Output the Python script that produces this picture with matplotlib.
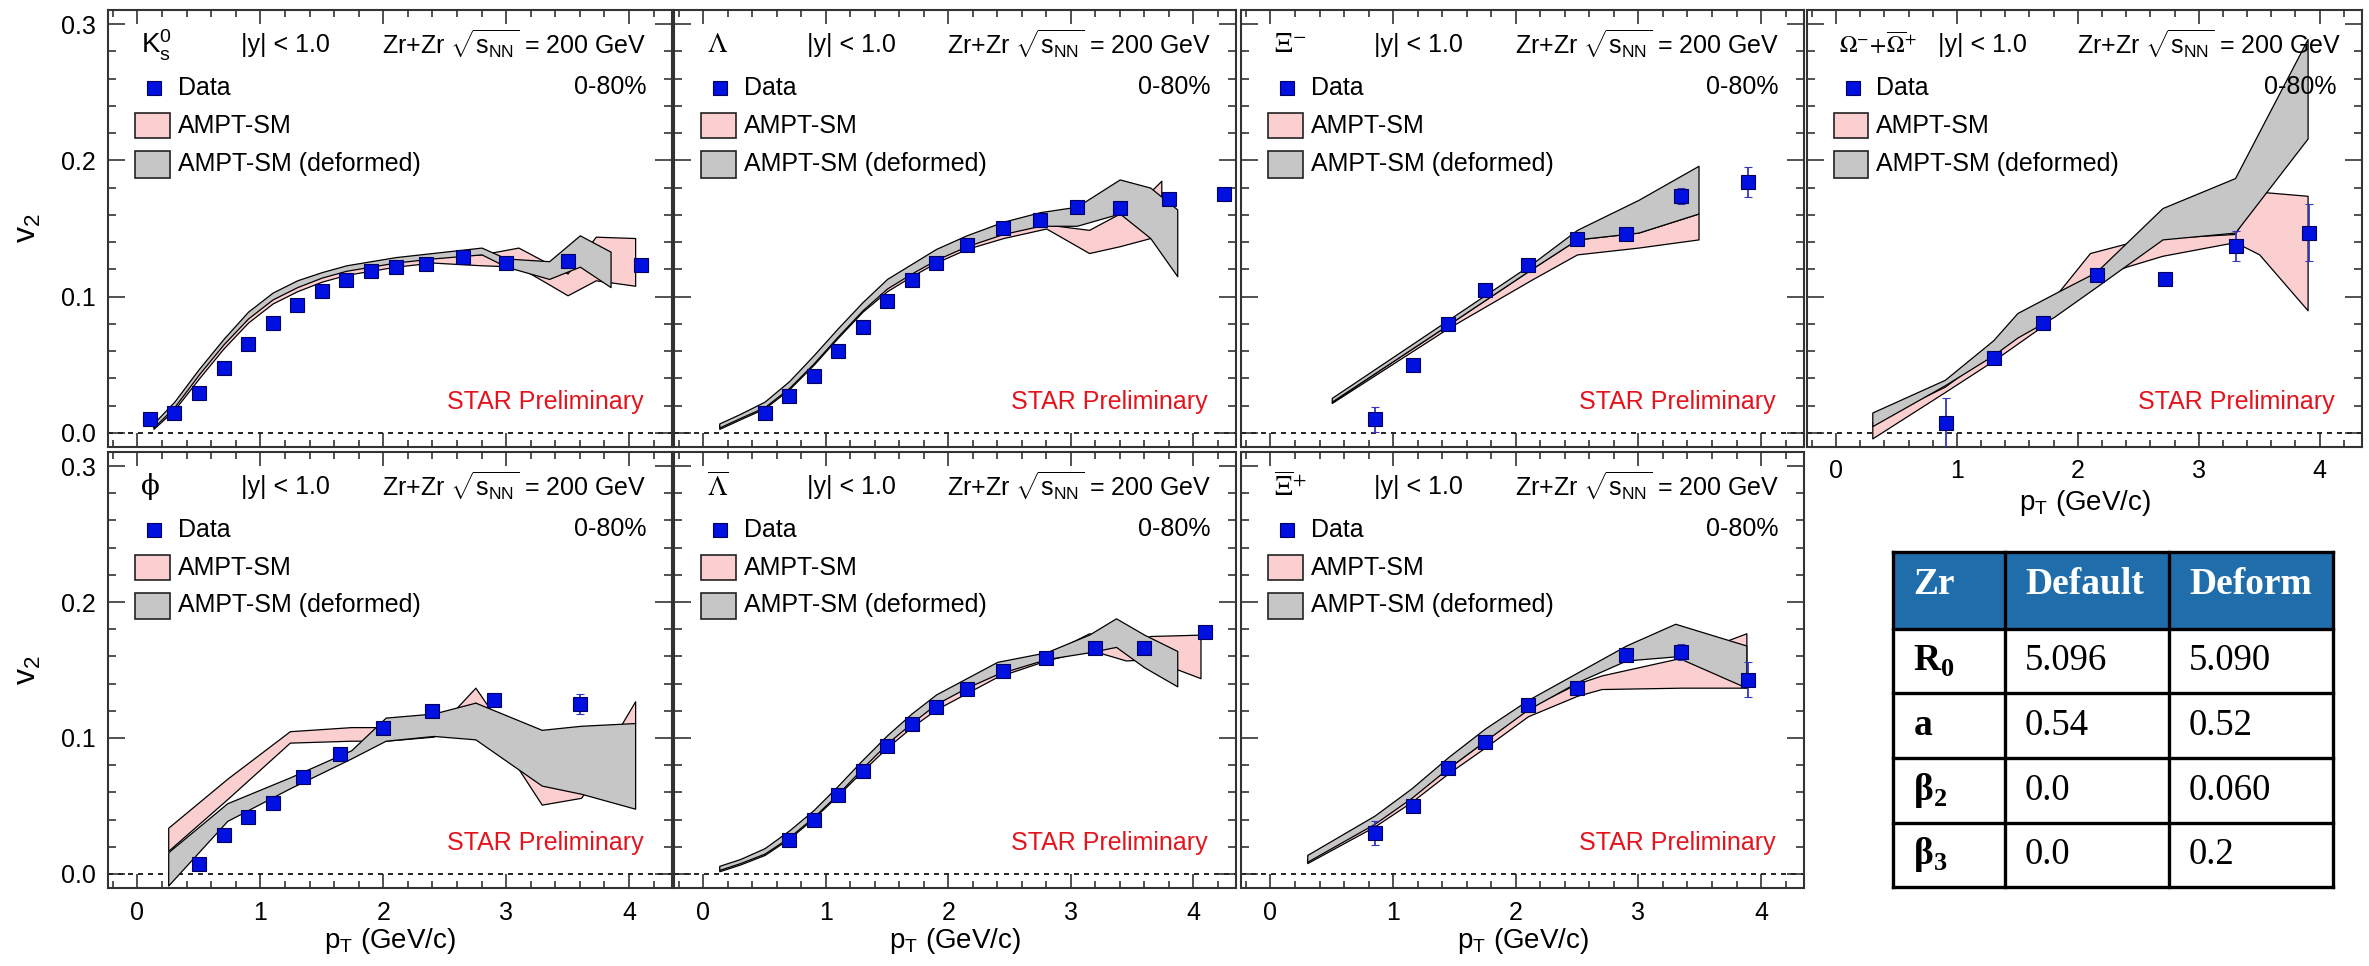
import matplotlib
matplotlib.use("Agg")
import matplotlib.pyplot as plt
from matplotlib.patches import Rectangle

plt.rcParams['font.family'] = ['Liberation Sans', 'DejaVu Sans']
plt.rcParams['mathtext.fontset'] = 'custom'
plt.rcParams['mathtext.rm'] = 'Liberation Sans'
plt.rcParams['mathtext.it'] = 'Liberation Sans:italic'
plt.rcParams['mathtext.bf'] = 'Liberation Serif:bold'

# -----------------------------
# data
# -----------------------------
# K0s
k0s_pt = [0.1, 0.3, 0.5, 0.7, 0.9, 1.1, 1.3, 1.5, 1.7, 1.9, 2.1, 2.35, 2.65, 3.0, 3.5, 4.1]
k0s_v2 = [0.010, 0.015, 0.029, 0.048, 0.065, 0.081, 0.094, 0.104, 0.112, 0.119, 0.122, 0.124, 0.129, 0.125, 0.126, 0.123]
k0s_err = [0.001] * 14 + [0.004, 0.002]
k0s_def_pt = [0.13, 0.3, 0.5, 0.7, 0.9, 1.1, 1.3, 1.5, 1.7, 1.9, 2.1, 2.4, 2.8, 3.1, 3.33, 3.5, 3.73, 4.05]
k0s_def_lo = [0.003, 0.017, 0.040, 0.062, 0.081, 0.095, 0.104, 0.111, 0.116, 0.119, 0.122, 0.125, 0.123, 0.122, 0.110, 0.101, 0.112, 0.108]
k0s_def_hi = [0.005, 0.020, 0.044, 0.066, 0.085, 0.099, 0.108, 0.115, 0.120, 0.123, 0.126, 0.129, 0.131, 0.136, 0.125, 0.117, 0.144, 0.143]
k0s_dfm_pt = [0.13, 0.3, 0.5, 0.7, 0.9, 1.1, 1.3, 1.5, 1.7, 1.9, 2.1, 2.4, 2.8, 3.0, 3.35, 3.6, 3.85]
k0s_dfm_lo = [0.004, 0.019, 0.043, 0.065, 0.084, 0.098, 0.107, 0.114, 0.119, 0.122, 0.125, 0.128, 0.131, 0.122, 0.113, 0.122, 0.107]
k0s_dfm_hi = [0.007, 0.023, 0.047, 0.069, 0.089, 0.103, 0.112, 0.118, 0.123, 0.126, 0.129, 0.132, 0.136, 0.128, 0.126, 0.145, 0.133]

# Lambda
lam_pt = [0.5, 0.7, 0.9, 1.1, 1.3, 1.5, 1.7, 1.9, 2.15, 2.45, 2.75, 3.05, 3.4, 3.8, 4.25]
lam_v2 = [0.015, 0.027, 0.042, 0.060, 0.078, 0.097, 0.112, 0.125, 0.138, 0.150, 0.156, 0.166, 0.165, 0.172, 0.175]
lam_err = [0.002] * 15
lam_def_pt = [0.13, 0.3, 0.5, 0.7, 0.9, 1.1, 1.3, 1.5, 1.7, 1.9, 2.15, 2.45, 2.8, 3.15, 3.4, 3.65, 3.74]
lam_def_lo = [0.003, 0.010, 0.018, 0.032, 0.050, 0.070, 0.089, 0.104, 0.115, 0.125, 0.135, 0.143, 0.150, 0.132, 0.137, 0.143, 0.160]
lam_def_hi = [0.006, 0.013, 0.022, 0.036, 0.055, 0.075, 0.094, 0.109, 0.119, 0.129, 0.139, 0.148, 0.153, 0.149, 0.161, 0.177, 0.185]
lam_dfm_pt = [0.13, 0.3, 0.5, 0.7, 0.9, 1.1, 1.3, 1.5, 1.7, 1.9, 2.15, 2.45, 2.75, 3.05, 3.4, 3.65, 3.87]
lam_dfm_lo = [0.004, 0.011, 0.019, 0.033, 0.051, 0.071, 0.090, 0.106, 0.117, 0.127, 0.137, 0.146, 0.152, 0.152, 0.161, 0.143, 0.115]
lam_dfm_hi = [0.007, 0.014, 0.023, 0.038, 0.057, 0.077, 0.096, 0.113, 0.124, 0.135, 0.145, 0.155, 0.162, 0.166, 0.186, 0.180, 0.164]

# Xi-
xim_pt = [0.85, 1.16, 1.45, 1.75, 2.1, 2.5, 2.9, 3.35, 3.89]
xim_v2 = [0.010, 0.050, 0.080, 0.105, 0.123, 0.142, 0.146, 0.174, 0.184]
xim_err = [0.009, 0.002, 0.002, 0.002, 0.002, 0.002, 0.002, 0.006, 0.011]
xim_def_pt = [0.5, 1.45, 2.14, 2.5, 3.0, 3.49]
xim_def_lo = [0.022, 0.077, 0.113, 0.131, 0.136, 0.142]
xim_def_hi = [0.023, 0.0795, 0.121, 0.142, 0.147, 0.161]
xim_dfm_pt = [0.5, 1.45, 2.14, 2.5, 3.0, 3.49]
xim_dfm_lo = [0.023, 0.0795, 0.121, 0.142, 0.147, 0.161]
xim_dfm_hi = [0.0257, 0.083, 0.1247, 0.149, 0.171, 0.196]

# Omega- + anti-Omega+
ome_pt = [0.91, 1.31, 1.71, 2.16, 2.72, 3.31, 3.91]
ome_v2 = [0.007, 0.055, 0.081, 0.116, 0.113, 0.137, 0.147]
ome_err = [0.019, 0.004, 0.002, 0.002, 0.003, 0.011, 0.021]
ome_def_pt = [0.3, 0.9, 1.3, 1.7, 2.1, 2.4, 2.7, 3.3, 3.5, 3.9]
ome_def_lo = [-0.004, 0.030, 0.053, 0.078, 0.112, 0.122, 0.130, 0.140, 0.131, 0.090]
ome_def_hi = [0.008, 0.034, 0.060, 0.088, 0.132, 0.139, 0.143, 0.146, 0.177, 0.174]
ome_dfm_pt = [0.3, 0.9, 1.3, 1.5, 1.8, 2.15, 2.7, 3.3, 3.9]
ome_dfm_lo = [0.005, 0.035, 0.057, 0.070, 0.085, 0.107, 0.142, 0.147, 0.216]
ome_dfm_hi = [0.015, 0.039, 0.068, 0.088, 0.102, 0.118, 0.165, 0.187, 0.289]

# phi
phi_pt = [0.5, 0.7, 0.9, 1.1, 1.35, 1.65, 2.0, 2.4, 2.9, 3.6]
phi_v2 = [0.007, 0.029, 0.042, 0.052, 0.071, 0.088, 0.107, 0.120, 0.128, 0.125]
phi_err = [0.002] * 9 + [0.007]
phi_def_pt = [0.25, 0.73, 1.24, 1.74, 2.02, 2.41, 2.75, 3.29, 3.61, 4.05]
phi_def_lo = [0.017, 0.055, 0.0966, 0.098, 0.098, 0.101, 0.126, 0.051, 0.056, 0.111]
phi_def_hi = [0.034, 0.070, 0.105, 0.108, 0.108, 0.104, 0.137, 0.066, 0.060, 0.127]
phi_dfm_pt = [0.25, 0.73, 1.24, 1.74, 2.02, 2.41, 2.75, 3.29, 3.61, 4.05]
phi_dfm_lo = [-0.0085, 0.039, 0.063, 0.085, 0.098, 0.1015, 0.099, 0.065, 0.059, 0.048]
phi_dfm_hi = [0.016, 0.052, 0.071, 0.091, 0.115, 0.118, 0.126, 0.106, 0.109, 0.111]

# anti-Lambda
alam_pt = [0.7, 0.9, 1.1, 1.3, 1.5, 1.7, 1.9, 2.15, 2.45, 2.8, 3.2, 3.6, 4.1]
alam_v2 = [0.025, 0.040, 0.058, 0.076, 0.094, 0.110, 0.123, 0.136, 0.149, 0.159, 0.166, 0.166, 0.178]
alam_err = [0.002] * 13
alam_def_pt = [0.13, 0.3, 0.5, 0.7, 0.9, 1.1, 1.3, 1.5, 1.7, 1.9, 2.15, 2.4, 2.8, 3.15, 3.45, 3.65, 4.06]
alam_def_lo = [0.002, 0.007, 0.014, 0.026, 0.041, 0.058, 0.076, 0.093, 0.108, 0.121, 0.133, 0.145, 0.157, 0.165, 0.157, 0.158, 0.144]
alam_def_hi = [0.005, 0.010, 0.018, 0.030, 0.045, 0.062, 0.080, 0.097, 0.112, 0.126, 0.139, 0.150, 0.161, 0.177, 0.168, 0.175, 0.176]
alam_dfm_pt = [0.13, 0.3, 0.5, 0.7, 0.9, 1.1, 1.3, 1.5, 1.7, 1.9, 2.15, 2.4, 2.8, 3.15, 3.37, 3.6, 3.87]
alam_dfm_lo = [0.003, 0.008, 0.015, 0.027, 0.042, 0.059, 0.078, 0.096, 0.111, 0.125, 0.137, 0.147, 0.158, 0.163, 0.167, 0.152, 0.138]
alam_dfm_hi = [0.006, 0.011, 0.019, 0.032, 0.047, 0.065, 0.084, 0.102, 0.118, 0.132, 0.144, 0.156, 0.163, 0.176, 0.188, 0.176, 0.164]

# anti-Xi+
axi_pt = [0.85, 1.16, 1.45, 1.75, 2.1, 2.5, 2.9, 3.35, 3.89]
axi_v2 = [0.030, 0.050, 0.078, 0.097, 0.124, 0.137, 0.161, 0.163, 0.143]
axi_err = [0.009, 0.002, 0.002, 0.002, 0.003, 0.002, 0.002, 0.006, 0.013]
axi_def_pt = [0.3, 0.85, 1.15, 1.45, 1.75, 2.1, 2.5, 2.7, 3.35, 3.88]
axi_def_lo = [0.008, 0.035, 0.053, 0.074, 0.093, 0.116, 0.131, 0.136, 0.137, 0.137]
axi_def_hi = [0.011, 0.038, 0.057, 0.078, 0.098, 0.122, 0.140, 0.146, 0.159, 0.177]
axi_dfm_pt = [0.3, 0.85, 1.15, 1.45, 1.75, 2.1, 2.5, 2.9, 3.3, 3.88]
axi_dfm_lo = [0.009, 0.037, 0.056, 0.078, 0.098, 0.121, 0.141, 0.157, 0.160, 0.137]
axi_dfm_hi = [0.014, 0.043, 0.063, 0.086, 0.107, 0.128, 0.148, 0.168, 0.184, 0.168]

# table of Woods-Saxon parameters
table_cols = ['Zr', 'Default', 'Deform']
table_rows = [r'$\mathbf{R}_{\mathbf{0}}$', r'$\mathbf{a}$', r'$\mathbf{β}_{\mathbf{2}}$', r'$\mathbf{β}_{\mathbf{3}}$']
default_vals = ['5.096', '0.54', '0.0', '0.0']
deform_vals = ['5.090', '0.52', '0.060', '0.2']

PINK = '#fbcfcf'
GRAY = '#c6c6c6'
BLUE_MK = '#0010e0'
RED = '#e3141e'

W, H = 2369, 966
fig = plt.figure(figsize=(W / 100, H / 100), dpi=100)

panels = [
    # label, label size, math font, data, default band, deformed band, (left px, width px), row
    (r'$\mathrm{K}^{0}_{\mathrm{s}}$', 20, 'custom', (k0s_pt, k0s_v2, k0s_err),
     (k0s_def_pt, k0s_def_lo, k0s_def_hi), (k0s_dfm_pt, k0s_dfm_lo, k0s_dfm_hi), (108, 564), 0),
    (r'$\Lambda$', 20, 'stix', (lam_pt, lam_v2, lam_err),
     (lam_def_pt, lam_def_lo, lam_def_hi), (lam_dfm_pt, lam_dfm_lo, lam_dfm_hi), (674, 562), 0),
    (r'$\Xi^{-}$', 20, 'stix', (xim_pt, xim_v2, xim_err),
     (xim_def_pt, xim_def_lo, xim_def_hi), (xim_dfm_pt, xim_dfm_lo, xim_dfm_hi), (1241, 563), 0),
    (r'$\Omega^{-}\!+\!\overline{\Omega}^{+}$', 17, 'stix', (ome_pt, ome_v2, ome_err),
     (ome_def_pt, ome_def_lo, ome_def_hi), (ome_dfm_pt, ome_dfm_lo, ome_dfm_hi), (1807, 555), 0),
    ('ϕ', 20, None, (phi_pt, phi_v2, phi_err),
     (phi_def_pt, phi_def_lo, phi_def_hi), (phi_dfm_pt, phi_dfm_lo, phi_dfm_hi), (108, 564), 1),
    (r'$\overline{\Lambda}$', 20, 'stix', (alam_pt, alam_v2, alam_err),
     (alam_def_pt, alam_def_lo, alam_def_hi), (alam_dfm_pt, alam_dfm_lo, alam_dfm_hi), (674, 562), 1),
    (r'$\overline{\Xi}^{+}$', 20, 'stix', (axi_pt, axi_v2, axi_err),
     (axi_def_pt, axi_def_lo, axi_def_hi), (axi_dfm_pt, axi_dfm_lo, axi_dfm_hi), (1241, 563), 1),
]

rows_px = [(10, 447), (452, 888)]

for idx, (label, lsize, mfont, data, dband, gband, (lx, wx), row) in enumerate(panels):
    top, bot = rows_px[row]
    ax = fig.add_axes([lx / W, 1 - bot / H, wx / W, (bot - top) / H])
    ax.set_xlim(-0.24, 4.35)
    ax.set_ylim(-0.0103, 0.3103)

    ax.fill_between(dband[0], dband[1], dband[2], facecolor=PINK, edgecolor='black', lw=0.9, zorder=2)
    ax.fill_between(gband[0], gband[1], gband[2], facecolor=GRAY, edgecolor='black', lw=0.9, zorder=3)
    ax.axhline(0, color='black', lw=1.2, ls=(0, (3, 3)), zorder=1)
    ax.errorbar(data[0], data[1], yerr=data[2], fmt='s', ms=9.5, mfc=BLUE_MK, mec='#000060',
                mew=0.8, ecolor='#3535c0', elinewidth=1.3, capsize=3, capthick=1.3, zorder=5)

    # axes style (ROOT-like)
    ax.set_xticks([0, 1, 2, 3, 4])
    ax.set_xticks([i * 0.2 for i in range(-1, 22)], minor=True)
    ax.set_yticks([0.0, 0.1, 0.2, 0.3])
    ax.set_yticks([i * 0.02 for i in range(0, 16)], minor=True)
    ax.set_yticklabels(['0.0', '0.1', '0.2', '0.3'])
    ax.tick_params(which='both', direction='in', top=True, right=True, width=1.1, colors='#222222',
                   labelsize=18, labelcolor='black')
    ax.tick_params(axis='x', which='major', length=10, pad=9)
    ax.tick_params(axis='x', which='minor', length=5)
    ax.tick_params(axis='y', which='major', length=12, pad=9)
    ax.tick_params(axis='y', which='minor', length=6)
    for sp in ax.spines.values():
        sp.set_linewidth(1.5)
        sp.set_color('#333333')
    if lx != 108:
        ax.tick_params(axis='y', labelleft=False)
    if row == 0 and idx != 3:
        ax.tick_params(axis='x', labelbottom=False)

    # labels in the panel
    if mfont is None:
        ax.text(0.058, 0.92, label, transform=ax.transAxes, fontsize=lsize, va='center', ha='left',
                family=['DejaVu Serif'])
    else:
        ax.text(0.058, 0.92, label, transform=ax.transAxes, fontsize=lsize, va='center', ha='left',
                math_fontfamily=mfont)
    ax.text(0.236, 0.92, '|y| < 1.0', transform=ax.transAxes, fontsize=18, va='center')
    ax.text(0.486, 0.92, r'Zr+Zr $\sqrt{\mathrm{s}_{\mathrm{NN}}}$ = 200 GeV', transform=ax.transAxes,
            fontsize=18, va='center')
    ax.text(0.954, 0.824, '0-80%', transform=ax.transAxes, fontsize=18, va='center', ha='right')
    ax.text(0.950, 0.103, 'STAR Preliminary', transform=ax.transAxes, fontsize=18, va='center',
            ha='right', color=RED)

    # legend drawn in the ROOT layout
    ax.plot([0.082], [0.821], 's', transform=ax.transAxes, ms=9.5, mfc=BLUE_MK, mec='#000060',
            mew=0.8, clip_on=False, zorder=6)
    ax.text(0.124, 0.821, 'Data', transform=ax.transAxes, fontsize=18, va='center')
    ax.add_patch(Rectangle((0.048, 0.707), 0.062, 0.057, transform=ax.transAxes,
                           facecolor=PINK, edgecolor='#222222', lw=1.2, zorder=6))
    ax.text(0.124, 0.735, 'AMPT-SM', transform=ax.transAxes, fontsize=18, va='center')
    ax.add_patch(Rectangle((0.048, 0.616), 0.062, 0.061, transform=ax.transAxes,
                           facecolor=GRAY, edgecolor='#222222', lw=1.2, zorder=6))
    ax.text(0.124, 0.648, 'AMPT-SM (deformed)', transform=ax.transAxes, fontsize=18, va='center')

    if lx == 108:
        ax.text(-0.142, 0.5, r'v$_2$', transform=ax.transAxes, fontsize=23, rotation=90,
                ha='center', va='center')
    if row == 1 or idx == 3:
        yl = -0.122 if row == 1 else -0.128
        ax.text(0.5, yl, r'p$_{\mathrm{T}}$ (GeV/c)', transform=ax.transAxes, fontsize=20,
                ha='center', va='center')

# -----------------------------
# parameter table
# -----------------------------
tx0, tx1, ty0, ty1 = 1893, 2333, 552, 887
axt = fig.add_axes([tx0 / W, 1 - ty1 / H, (tx1 - tx0) / W, (ty1 - ty0) / H])
axt.set_xlim(0, tx1 - tx0)
axt.set_ylim(ty1 - ty0, 0)
axt.axis('off')

col_x = [0, 112, 276, 440]
row_y = [0, 77, 141, 206, 271, 335]
axt.add_patch(Rectangle((0, 0), 440, 77, facecolor='#1f6eab', edgecolor='none'))
for yy in row_y:
    axt.plot([0, 440], [yy, yy], color='black', lw=2.4, solid_capstyle='projecting', clip_on=False)
for xx in col_x:
    axt.plot([xx, xx], [0, 335], color='black', lw=2.4, solid_capstyle='projecting', clip_on=False)

for j, name in enumerate(table_cols):
    axt.text(col_x[j] + 20, 33, name, fontsize=27, color='white', fontweight='bold',
             family='Liberation Serif', va='center', ha='left')
for i in range(4):
    yc = (row_y[i + 1] + row_y[i + 2]) / 2
    axt.text(col_x[0] + 20, yc, table_rows[i], fontsize=27, va='center', ha='left',
             family='Liberation Serif')
    axt.text(col_x[1] + 20, yc, default_vals[i], fontsize=26.5, va='center', ha='left',
             family='Liberation Serif')
    axt.text(col_x[2] + 20, yc, deform_vals[i], fontsize=26.5, va='center', ha='left',
             family='Liberation Serif')

fig.savefig('out.png', dpi=100)
